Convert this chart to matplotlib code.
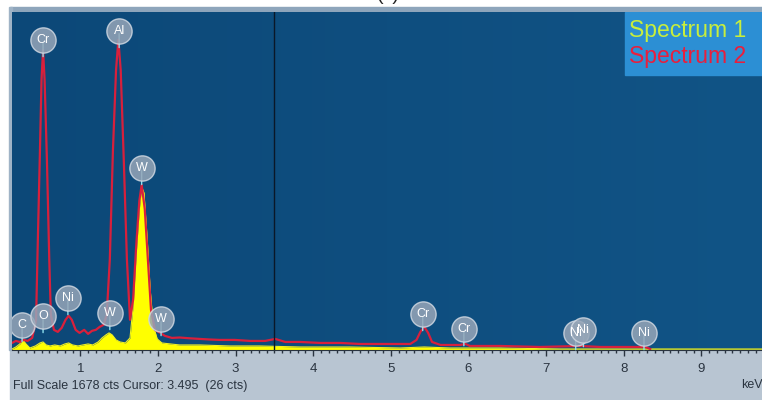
# EDS spectrum screenshot: Spectrum 1 (yellow fill) vs Spectrum 2 (red line)

import numpy as np
import matplotlib
matplotlib.use('Agg')
import matplotlib.pyplot as plt
from matplotlib.patches import Rectangle
from matplotlib.colors import LinearSegmentedColormap
from matplotlib.ticker import MultipleLocator

# Spectrum 2 (red) - energy (keV) and counts
spec2_kev = [0.12, 0.17, 0.22, 0.27, 0.32, 0.38, 0.43, 0.45, 0.48, 0.50, 0.52, 0.54, 0.57, 0.60,
             0.62, 0.66, 0.71, 0.76, 0.81, 0.85, 0.89, 0.94, 0.99, 1.05, 1.10, 1.15, 1.20, 1.25,
             1.30, 1.34, 1.38, 1.42, 1.46, 1.49, 1.52, 1.56, 1.60, 1.64, 1.68, 1.72, 1.76, 1.79,
             1.83, 1.87, 1.91, 1.96, 2.03, 2.09, 2.18, 2.28, 2.41, 2.54, 2.67, 2.80, 2.99, 3.19,
             3.38, 3.51, 3.64, 3.83, 4.09, 4.35, 4.60, 4.86, 5.12, 5.25, 5.33, 5.38, 5.43, 5.48,
             5.53, 5.64, 5.89, 5.96, 6.02, 6.41, 6.92, 7.44, 7.70, 8.28, 8.34]
spec2_cts = [35, 45, 40, 50, 45, 60, 150, 500, 990, 1340, 1490, 1340, 940, 450,
             175, 100, 90, 110, 150, 170, 150, 100, 85, 100, 80, 95, 100, 115,
             125, 175, 450, 990, 1390, 1540, 1390, 940, 450, 150, 250, 520, 740, 820,
             700, 450, 200, 100, 85, 70, 60, 62, 58, 55, 52, 50, 50, 45,
             45, 55, 40, 40, 35, 35, 30, 30, 30, 30, 50, 90, 115, 85,
             40, 25, 25, 30, 20, 20, 15, 20, 15, 15, 5]

# Spectrum 1 (yellow)
spec1_kev = [0.12, 0.17, 0.22, 0.26, 0.30, 0.35, 0.42, 0.48, 0.52, 0.56, 0.61, 0.67, 0.74, 0.80,
             0.85, 0.90, 0.97, 1.03, 1.10, 1.16, 1.23, 1.28, 1.33, 1.37, 1.41, 1.46, 1.51, 1.58,
             1.64, 1.68, 1.72, 1.76, 1.79, 1.82, 1.86, 1.90, 1.94, 1.99, 2.05, 2.16, 2.28, 2.54,
             2.93, 3.31, 3.83, 4.47, 5.12, 5.43, 5.76, 6.41, 7.18, 7.95, 8.98, 9.78]
spec1_cts = [5, 15, 30, 50, 30, 10, 20, 35, 40, 25, 20, 25, 20, 30,
             35, 25, 20, 25, 30, 25, 40, 60, 75, 85, 75, 50, 40, 35,
             60, 220, 480, 700, 810, 780, 560, 300, 120, 55, 35, 30, 25, 25,
             20, 20, 15, 15, 10, 15, 10, 10, 5, 5, 5, 5]

# Element markers
peak_names = ['C', 'O', 'Ni', 'W', 'Cr', 'Al', 'W', 'W', 'Cr', 'Cr', 'Ni', 'Ni', 'Ni']
peak_kev = [0.25, 0.52, 0.84, 1.38, 0.52, 1.50, 1.79, 2.04, 5.41, 5.94, 7.38, 7.48, 8.26]
peak_cts = [124, 169, 258, 184, 1539, 1584, 904, 154, 179, 104, 84, 99, 84]

x_ticks = [1, 2, 3, 4, 5, 6, 7, 8, 9]
full_scale = 1678
cursor_kev = 3.495
cursor_cts = 26

plt.rcParams['font.family'] = ['Liberation Sans', 'DejaVu Sans']

fig = plt.figure(figsize=(7.62, 4.0), dpi=100)
fig.patch.set_facecolor('white')

# grey strip under the plot, thin frame bits (behind the axes)
fig.patches.append(Rectangle((10/762, 0), 752/762, 51/400, transform=fig.transFigure,
                             color='#b8c5d2', zorder=-5))
fig.patches.append(Rectangle((10/762, 388/400), 752/762, 5/400, transform=fig.transFigure,
                             color='#8ea5bb', zorder=-5))
fig.patches.append(Rectangle((9/762, 50/400), 3/762, 343/400, transform=fig.transFigure,
                             color='#9fb3c6', zorder=-5))

ax = fig.add_axes([12/762, 50/400, 750/762, 338/400])

# blue background, slightly lighter to the right
bg = LinearSegmentedColormap.from_list('bg', ['#0c4878', '#115486'])
grad = np.linspace(0, 1, 256).reshape(1, -1)
ax.imshow(grad, extent=(0, 1, 0, 1), transform=ax.transAxes, aspect='auto', cmap=bg, zorder=0)

# spectra
ax.fill_between(spec1_kev, spec1_cts, color='#ffff00', lw=0, zorder=2)
ax.plot(spec1_kev, spec1_cts, color='#f0f020', lw=0.8, zorder=2)
ax.plot(spec2_kev, spec2_cts, color='#d8203c', lw=1.6, zorder=3)

# cursor line
ax.axvline(cursor_kev, color='#0a1828', lw=1, zorder=4)

# element labels
for name, e, c in zip(peak_names, peak_kev, peak_cts):
    ax.annotate('', xy=(e, c), xytext=(0, -14), textcoords='offset points',
                arrowprops=dict(arrowstyle='-', color='#8fe0ee', lw=1), zorder=5)
ax.scatter(peak_kev, peak_cts, s=330, color='#97a6b8', alpha=0.85, edgecolors='#d0d8e2',
           linewidths=1.0, zorder=6)
for name, e, c in zip(peak_names, peak_kev, peak_cts):
    ax.text(e, c, name, color='white', fontsize=9, ha='center', va='center', zorder=7)

# legend box
ax.add_patch(Rectangle((613/750, 1 - 63/338), 137/750, 63/338, transform=ax.transAxes,
                       color='#2c8fd4', zorder=8))
ax.text(617/750, 1 - 18/338, 'Spectrum 1', color='#c8ee3c', fontsize=16.5,
        transform=ax.transAxes, va='center', zorder=9)
ax.text(617/750, 1 - 44/338, 'Spectrum 2', color='#ea1e3c', fontsize=16.5,
        transform=ax.transAxes, va='center', zorder=9)

ax.set_xlim(0.12, 9.78)
ax.set_ylim(0, full_scale)
ax.set_xticks(x_ticks)
ax.xaxis.set_minor_locator(MultipleLocator(0.1))
ax.set_yticks([])
ax.tick_params(axis='x', which='major', direction='out', length=4, width=1, color='#2a3440',
               pad=5, labelsize=9.5, labelcolor='#2a3440')
ax.tick_params(axis='x', which='minor', direction='out', length=2.5, width=1, color='#2a3440')
for s in ['top', 'left', 'right']:
    ax.spines[s].set_visible(False)
ax.spines['bottom'].set_color('#2a3440')

fig.text(13/762, 1 - 386/400, 'Full Scale %d cts Cursor: %.3f  (%d cts)' % (full_scale, cursor_kev, cursor_cts),
         fontsize=9, color='#2a3440', va='center')
fig.text(741/762, 1 - 385/400, 'keV', fontsize=9, color='#2a3440', va='center')
fig.text(388/762, 1.0, '(c)', fontsize=14, color='#222222', ha='center', va='baseline')

fig.savefig('out.png', dpi=100)
